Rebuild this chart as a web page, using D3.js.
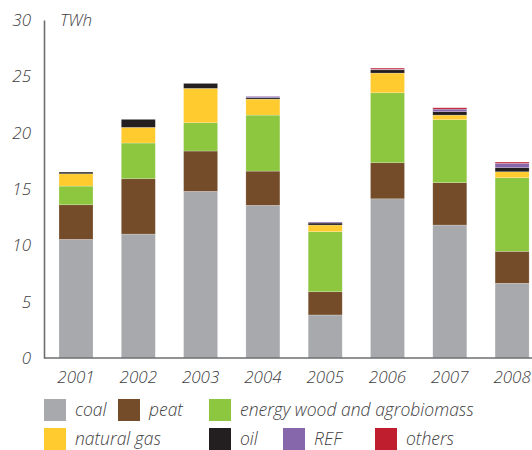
<!DOCTYPE html>
<html><head><meta charset="utf-8">
<script src="https://cdn.jsdelivr.net/npm/d3@7"></script>
<style>body{margin:0;background:#fff}svg{display:block}text{font-family:"Open Sans",sans-serif;font-style:italic;font-weight:300;fill:#414042}</style>
</head><body><svg id="c" width="532" height="450"></svg>
<script>
const years = ["2001","2002","2003","2004","2005","2006","2007","2008"];
const seriesNames = ["coal","peat","energy wood and agrobiomass","natural gas","oil","REF","others"];
const colors = ["#a7a9ac","#754c29","#8dc63f","#ffcb2f","#231f20","#8767ac","#be1e2d"];
const coal    = [10.53, 11.0, 14.79, 13.55, 3.82, 14.13, 11.8, 6.63];
const peat    = [3.07, 4.91, 3.58, 3.04, 2.06, 3.2, 3.76, 2.84];
const wood    = [1.66, 3.17, 2.51, 4.97, 5.33, 6.21, 5.59, 6.53];
const gas     = [1.09, 1.39, 3.05, 1.42, 0.59, 1.75, 0.41, 0.53];
const oil     = [0.15, 0.71, 0.44, 0.12, 0.18, 0.29, 0.30, 0.36];
const ref     = [0, 0, 0, 0.12, 0.09, 0.05, 0.23, 0.39];
const others  = [0, 0, 0, 0, 0, 0.10, 0.12, 0.11];
const yTicks = [0,5,10,15,20,25,30];
const unitLabel = "TWh";

const seriesVals = [coal, peat, wood, gas, oil, ref, others];
const rows = years.map((y,i)=>{const o={year:y}; seriesNames.forEach((s,k)=>o[s]=seriesVals[k][i]); return o;});
const stack = d3.stack().keys(seriesNames)(rows);

const svg = d3.select("#c");
const x = d3.scaleBand().domain(years).range([44.85, 543.25]).paddingInner(0.454).paddingOuter(0.227);
const y = d3.scaleLinear().domain([0,30]).range([358, 20]);

// bars
svg.append("g").selectAll("g").data(stack).join("g")
  .attr("fill",(d,i)=>colors[i])
  .selectAll("rect").data(d=>d).join("rect")
  .attr("x",d=>x(d.data.year)).attr("width",x.bandwidth())
  .attr("y",d=>y(d[1])).attr("height",d=>Math.max(0,y(d[0])-y(d[1])))
  .attr("stroke","rgba(255,255,255,0.35)").attr("stroke-width",0.6);

const fontStyle = sel => sel.style("font-family","'Open Sans',sans-serif").style("font-style","italic").style("font-weight","300").attr("fill","#414042");

// y axis
const ya = d3.axisLeft(y).tickValues(yTicks).tickSize(0).tickPadding(13);
const gy = svg.append("g").attr("transform","translate(44,0)").call(ya);
gy.select(".domain").attr("stroke","#6d6e71").attr("stroke-width",1.6);
gy.selectAll("text").style("font-size","17px").call(fontStyle);

// x axis
const xa = d3.axisBottom(x).tickSize(0).tickPadding(13);
const gx = svg.append("g").attr("transform","translate(0,358)").call(xa);
gx.select(".domain").attr("d","M44,0H532").attr("stroke","#6d6e71").attr("stroke-width",1.6);
gx.selectAll("text").style("font-size","17px").call(fontStyle);

svg.append("text").attr("x",60).attr("y",26).style("font-size","17px").text(unitLabel);

// legend
const legendPos = [[44,399],[118,399],[209,399],[44,428],[209,428],[283,428],[375,428]];
const lg = svg.append("g").selectAll("g").data(seriesNames).join("g")
  .attr("transform",(d,i)=>`translate(${legendPos[i][0]},${legendPos[i][1]})`);
lg.append("rect").attr("width",22).attr("height",22).attr("fill",(d,i)=>colors[i]);
lg.append("text").attr("x",31).attr("y",17).style("font-size","17.5px").text(d=>d);
</script></body></html>
